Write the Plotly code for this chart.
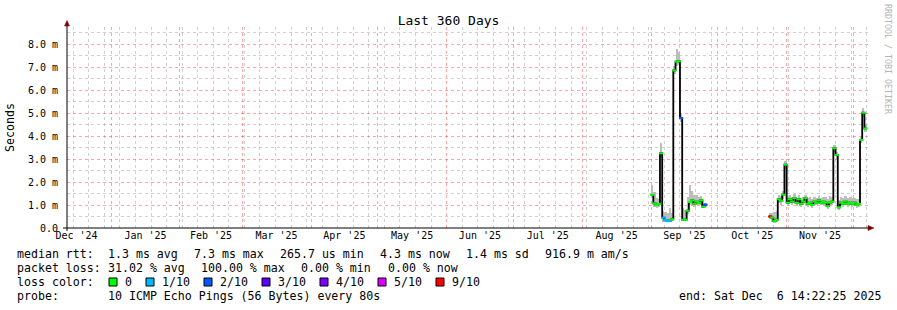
import pandas as pd
import plotly.graph_objects as go

seg_a_start = "2025-09-01"
seg_a_median = [1.44, 1.07, 1.00, 1.05, 3.25, 0.45, 0.35, 0.30, 0.32, 0.38, 6.85, 7.23, 7.25,
                4.78, 0.36, 0.36, 0.75, 1.13, 1.20, 1.05, 1.15, 1.10, 1.20, 0.93, 1.01]
seg_a_max = [1.85, 1.55, 1.30, 1.25, 3.70, 0.75, 0.70, 0.65, 0.85, 0.65, 7.05, 7.80, 7.65,
             4.95, 0.85, 0.80, 1.35, 1.85, 1.60, 1.45, 1.45, 1.35, 1.40, 1.25, 1.10]
seg_a_min = [1.30, 0.92, 0.88, 0.92, 3.05, 0.28, 0.26, 0.24, 0.26, 0.30, 6.70, 7.05, 7.10,
             4.60, 0.30, 0.30, 0.62, 0.98, 1.02, 0.92, 0.98, 0.98, 1.02, 0.86, 0.93]
seg_a_loss = [0, 0, 0, 0, 0, 1, 1, 1, 1, 0, 0, 0, 0, 2, 0, 0, 0, 0, 0, 0, 0, 0, 0, 0, 2]

seg_b_start = "2025-10-24"
seg_b_median = [0.50, 0.45, 0.30, 0.36, 1.25, 1.18, 1.45, 2.75, 1.10, 1.25, 1.15, 1.30, 1.10,
                1.25, 1.05, 1.15, 1.30, 1.05, 1.10, 1.00, 1.15, 1.10, 1.20, 1.10, 1.15, 1.10,
                0.95, 1.10, 1.15, 3.47, 3.18, 0.90, 1.10, 1.05, 1.15, 1.05, 1.10, 1.05, 1.10,
                1.00, 1.05, 3.83, 5.01, 4.33]
seg_b_max = [0.65, 0.65, 0.70, 0.75, 1.45, 1.40, 1.60, 2.90, 1.35, 1.45, 1.35, 1.50, 1.30,
             1.45, 1.30, 1.35, 1.45, 1.30, 1.35, 1.25, 1.35, 1.30, 1.40, 1.30, 1.35, 1.35,
             1.25, 1.40, 1.35, 3.62, 3.30, 1.20, 1.35, 1.30, 1.40, 1.30, 1.35, 1.30, 1.30,
             1.25, 1.25, 3.95, 5.22, 4.50]
seg_b_min = [0.38, 0.28, 0.23, 0.26, 1.08, 1.02, 1.28, 2.58, 0.96, 1.08, 1.00, 1.12, 0.96,
             1.08, 0.93, 1.00, 1.12, 0.93, 0.98, 0.88, 1.00, 0.98, 1.05, 0.98, 1.00, 0.98,
             0.83, 0.98, 1.00, 3.32, 3.02, 0.80, 0.98, 0.93, 1.00, 0.93, 0.98, 0.93, 0.98,
             0.88, 0.93, 3.68, 4.82, 4.18]
seg_b_loss = [9] + [0] * 43

loss_levels = [0, 1, 2, 3, 4, 5, 9]
loss_labels = ["0", "1/10", "2/10", "3/10", "4/10", "5/10", "9/10"]
loss_colors = ["#00ff00", "#00b8ff", "#0059ff", "#5e00ff", "#7e00ff", "#dd00ff", "#ff0000"]

y_tick_vals = [0, 1, 2, 3, 4, 5, 6, 7, 8]
y_tick_text = ["0.0", "1.0 m", "2.0 m", "3.0 m", "4.0 m", "5.0 m", "6.0 m", "7.0 m", "8.0 m"]

legend_lines = [
    [(16, "median rtt:"), (107, "1.3 ms avg"), (193, "7.3 ms max"), (279, "265.7 us min"),
     (379, "4.3 ms now"), (465, "1.4 ms sd"), (544, "916.9 m am/s")],
    [(16, "packet loss:"), (107, "31.02 % avg"), (200, "100.00 % max"), (300, "0.00 % min"),
     (387, "0.00 % now")],
    [(16, "loss color:")],
    [(16, "probe:"), (107, "10 ICMP Echo Pings (56 Bytes) every 80s"),
     (678, "end: Sat Dec  6 14:22:25 2025")],
]

W, H = 897, 310
PL, PR, PT, PB = 67, 868, 27, 228
PX_PER_MS = 23.0
Y_MIN = 0.0
Y_MAX = (PB - PT) / PX_PER_MS
X_START = "2024-12-12 04:48"
X_END = "2025-12-07 14:24"
FONT = "DejaVu Sans Mono"
DAY = pd.Timedelta(days=1)
MAJOR_GRID = "rgba(255,0,0,0.36)"
MINOR_GRID = "rgba(150,150,150,0.45)"


def px(x):
    return (x - PL) / (PR - PL)


def py(y):
    return (PB - y) / (PB - PT)


def loss_color(n):
    return loss_colors[loss_levels.index(n)]


fig = go.Figure()

segments = [
    (seg_a_start, seg_a_median, seg_a_max, seg_a_min, seg_a_loss),
    (seg_b_start, seg_b_median, seg_b_max, seg_b_min, seg_b_loss),
]

for start, med, mx, mn, loss in segments:
    dates = pd.date_range(start, periods=len(med), freq="D")
    centers = dates + DAY / 2
    fig.add_trace(go.Bar(
        x=centers, y=[a - b for a, b in zip(mx, mn)], base=mn,
        width=DAY.total_seconds() * 1000,
        marker=dict(color="#bdbdbd", line=dict(width=0)),
        hoverinfo="skip", showlegend=False))

for start, med, mx, mn, loss in segments:
    dates = pd.date_range(start, periods=len(med), freq="D")
    xs = list(dates) + [dates[-1] + DAY]
    ys = list(med) + [med[-1]]
    fig.add_trace(go.Scatter(
        x=xs, y=ys, mode="lines", line=dict(color="#000000", width=1.8, shape="hv"),
        hoverinfo="skip", showlegend=False))

for start, med, mx, mn, loss in segments:
    dates = pd.date_range(start, periods=len(med), freq="D")
    centers = dates + DAY / 2
    cols = [loss_color(n) for n in loss]
    fig.add_trace(go.Scatter(
        x=centers, y=med, mode="markers",
        marker=dict(symbol="line-ew", size=3, color=cols, line=dict(color=cols, width=2)),
        hoverinfo="skip", showlegend=False))

shapes = []
shapes.append(dict(type="line", xref="paper", yref="paper", x0=px(63), x1=px(869),
                   y0=py(228), y1=py(228), line=dict(color="black", width=1)))
shapes.append(dict(type="line", xref="paper", yref="paper", x0=px(67), x1=px(67),
                   y0=py(231), y1=py(25), line=dict(color="black", width=1)))
shapes.append(dict(type="path", xref="paper", yref="paper",
                   path=f"M {px(64.5)} {py(26)} L {px(67)} {py(20.5)} L {px(69.5)} {py(26)} Z",
                   fillcolor="#7f0000", line=dict(color="#7f0000", width=0.5)))
shapes.append(dict(type="path", xref="paper", yref="paper",
                   path=f"M {px(868)} {py(225.5)} L {px(874)} {py(228)} L {px(868)} {py(230.5)} Z",
                   fillcolor="#7f0000", line=dict(color="#7f0000", width=0.5)))

annotations = []


def add_text(x, y, text, size=11.6, color="black", anchor="left", angle=0):
    annotations.append(dict(
        xref="paper", yref="paper", x=px(x), y=py(y), text=text.replace(" ", "\u00a0"),
        showarrow=False, xanchor=anchor, yanchor="middle", textangle=angle,
        font=dict(family=FONT, size=size, color=color), borderpad=0))


line_y = [254, 268, 282, 296]
for yy, chunks in zip(line_y, legend_lines):
    for x, t in chunks:
        add_text(x, yy, t)

box_x = [109, 146, 204, 262, 320, 378, 436]
for bx, col, lab in zip(box_x, loss_colors, loss_labels):
    shapes.append(dict(type="rect", xref="paper", yref="paper", x0=px(bx), x1=px(bx + 8),
                       y0=py(286), y1=py(278), fillcolor=col, line=dict(color="black", width=1)))
    add_text(bx + 15, 282, lab)

add_text(10, 128, "Seconds", size=11.6, anchor="center", angle=-90)
add_text(888, 59, "RRDTOOL / TOBI OETIKER", size=8.3, color="#b4b4b4", anchor="center", angle=90)

fig.update_layout(
    width=W, height=H,
    margin=dict(l=PL, r=W - PR, t=PT, b=H - PB, pad=0),
    paper_bgcolor="white", plot_bgcolor="white",
    barmode="overlay", bargap=0,
    showlegend=False,
    title=dict(text="Last 360 Days", x=0.5, xref="container", xanchor="center",
               y=1 - 20 / H, yref="container", yanchor="middle",
               font=dict(family=FONT, size=13, color="black")),
    shapes=shapes, annotations=annotations,
    font=dict(family=FONT, size=10, color="black"),
    xaxis=dict(
        type="date", range=[X_START, X_END],
        tick0="2024-12-01", dtick="M1", ticklabelmode="period", tickformat="%b '%y",
        showgrid=True, gridcolor=MAJOR_GRID, gridwidth=1, griddash="dot",
        minor=dict(tick0="2024-12-15", dtick=7 * 86400000, showgrid=True,
                   gridcolor=MINOR_GRID, gridwidth=1, griddash="dot"),
        showline=False, zeroline=False, ticks="",
        tickfont=dict(family=FONT, size=10, color="black"),
    ),
    yaxis=dict(
        range=[Y_MIN, Y_MAX], tickvals=y_tick_vals, ticktext=y_tick_text,
        showgrid=True, gridcolor=MAJOR_GRID, gridwidth=1, griddash="dot",
        minor=dict(tick0=0.5, dtick=1, showgrid=True,
                   gridcolor=MINOR_GRID, gridwidth=1, griddash="dot"),
        showline=False, zeroline=False, ticks="outside", ticklen=6, tickcolor="white",
        tickfont=dict(family=FONT, size=10, color="black"),
    ),
)

fig.write_html("out.html")
